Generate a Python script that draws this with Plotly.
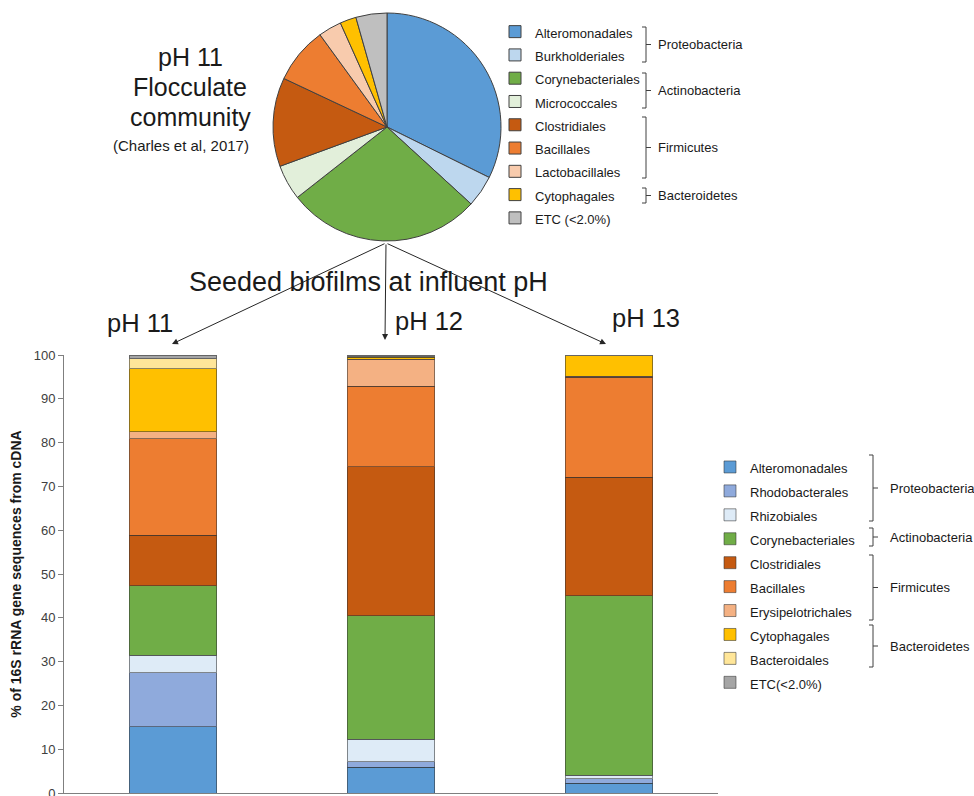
import plotly.graph_objects as go

# ---- Flocculate community (pie) ----
pie_labels = ["Alteromonadales", "Burkholderiales", "Corynebacteriales", "Micrococcales",
              "Clostridiales", "Bacillales", "Lactobacillales", "Cytophagales", "ETC (<2.0%)"]
pie_values = [32.3, 4.5, 27.6, 5.0, 12.6, 8.0, 3.3, 2.3, 4.4]
pie_colors = ["#5B9BD5", "#BDD7EE", "#70AD47", "#E2EFDA", "#C55A11",
              "#ED7D31", "#F8CBAD", "#FFC000", "#BFBFBF"]

# ---- Seeded biofilms (stacked bars) ----
conditions = ["pH 11", "pH 12", "pH 13"]
orders = ["Alteromonadales", "Rhodobacterales", "Rhizobiales", "Corynebacteriales",
          "Clostridiales", "Bacillales", "Erysipelotrichales", "Cytophagales",
          "Bacteroidales", "ETC(<2.0%)"]
ph11 = [15.1, 12.4, 3.9, 15.9, 11.6, 22.0, 1.6, 14.4, 2.3, 0.8]
ph12 = [5.9, 1.2, 5.2, 28.2, 34.0, 18.4, 6.1, 0.5, 0.1, 0.4]
ph13 = [2.2, 1.1, 0.7, 41.0, 27.1, 22.8, 0.3, 4.6, 0.0, 0.2]
bar_colors = ["#5B9BD5", "#8FAADC", "#DEEBF7", "#70AD47", "#C55A11",
              "#ED7D31", "#F4B183", "#FFC000", "#FFE699", "#A5A5A5"]
yticks = [0, 10, 20, 30, 40, 50, 60, 70, 80, 90, 100]

W, H = 974, 796
FONT = "Arial, Liberation Sans, sans-serif"


def px(x):
    return x / W


def py(y):
    return 1 - y / H


def small(s):
    # legend rows keep the pitch of the legend font, text is drawn at 13px
    return f'<span style="font-size:13px">{s}</span>'


fig = go.Figure()

fig.add_trace(go.Pie(
    labels=[small(l) for l in pie_labels], values=pie_values, sort=False,
    direction="clockwise", rotation=0, textinfo="none", hoverinfo="label+percent",
    marker=dict(colors=pie_colors, line=dict(color="#404040", width=1)),
    domain=dict(x=[px(273), px(501)], y=[py(241), py(13)]),
    legend="legend", name="",
))

for name, color, a, b, c in zip(orders, bar_colors, ph11, ph12, ph13):
    fig.add_trace(go.Bar(
        x=conditions, y=[a, b, c], name=small(name),
        marker=dict(color=color, line=dict(color="rgba(50,50,50,0.55)", width=1)),
        legend="legend2",
    ))

annotations = []
shapes = []


def text(x, y, s, size, xanchor="center"):
    annotations.append(dict(
        x=px(x), y=py(y), xref="paper", yref="paper", text=s,
        showarrow=False, xanchor=xanchor, yanchor="middle",
        font=dict(family=FONT, size=size, color="#1a1a1a")))


def bracket(x, y0, y1, label, lx):
    ym = (y0 + y1) / 2
    path = (f"M {px(x - 4)} {py(y0)} L {px(x)} {py(y0)} L {px(x)} {py(y1)} L {px(x - 4)} {py(y1)} "
            f"M {px(x)} {py(ym)} L {px(x + 5)} {py(ym)}")
    shapes.append(dict(type="path", xref="paper", yref="paper", path=path,
                       line=dict(color="#404040", width=1)))
    text(lx, ym, label, 13, xanchor="left")


# heading beside the pie
text(190, 57, "pH 11", 25)
text(190, 87, "Flocculate", 25)
text(190, 117, "community", 25)
text(181, 146, "(Charles et al, 2017)", 15)

# brackets for the pie legend
bracket(646, 27, 62, "Proteobacteria", 656)
bracket(646, 73, 108, "Actinobacteria", 656)
bracket(646, 117, 178, "Firmicutes", 656)
bracket(646, 188, 203, "Bacteroidetes", 656)

# brackets for the bar legend
bracket(873, 455, 521, "Proteobacteria", 888)
bracket(873, 528, 546, "Actinobacteria", 888)
bracket(873, 555, 620, "Firmicutes", 888)
bracket(873, 625, 667, "Bacteroidetes", 888)

# arrows from the flocculate to each seeded biofilm
origin = (386, 243)
for tx, ty in [(172, 344), (385, 340), (606, 344)]:
    annotations.append(dict(
        x=px(tx), y=py(ty), xref="paper", yref="paper", text="",
        ax=origin[0] - tx, ay=origin[1] - ty, axref="pixel", ayref="pixel",
        showarrow=True, arrowhead=2, arrowsize=1.2, arrowwidth=1, arrowcolor="#262626"))

text(368, 282, "Seeded biofilms at influent pH", 27)
text(140, 323, "pH 11", 25.5)
text(429, 321, "pH 12", 25.5)
text(646, 318, "pH 13", 25.5)

fig.update_layout(
    width=W, height=H, margin=dict(l=0, r=0, t=0, b=0, autoexpand=False),
    paper_bgcolor="white", plot_bgcolor="white",
    barmode="stack", bargap=0.6,
    font=dict(family=FONT, color="#262626"),
    xaxis=dict(domain=[px(64), px(718)], showticklabels=False, ticks="",
               showline=True, linecolor="#7f7f7f", linewidth=1, showgrid=False,
               zeroline=False, fixedrange=True, automargin=False),
    yaxis=dict(domain=[py(793), py(355)], range=[0, 100], tickvals=yticks,
               ticks="outside", ticklen=5, tickcolor="#7f7f7f", ticklabeloverflow="allow",
               showline=True, linecolor="#7f7f7f", linewidth=1, showgrid=False,
               zeroline=False, automargin=False,
               tickfont=dict(family=FONT, size=13, color="#404040"),
               title=dict(text="<b>% of 16S rRNA gene sequences from cDNA</b>",
                          font=dict(family=FONT, size=14, color="#1a1a1a"), standoff=8)),
    legend=dict(x=px(495), y=py(15), xanchor="left", yanchor="top",
                font=dict(family=FONT, size=15.6, color="#1a1a1a"),
                bgcolor="rgba(0,0,0,0)", traceorder="normal", itemclick=False),
    legend2=dict(x=px(710), y=py(450), xanchor="left", yanchor="top",
                 font=dict(family=FONT, size=16.1, color="#1a1a1a"),
                 bgcolor="rgba(0,0,0,0)", traceorder="normal", itemclick=False),
    annotations=annotations, shapes=shapes,
    showlegend=True,
)

fig.write_html("out.html")
